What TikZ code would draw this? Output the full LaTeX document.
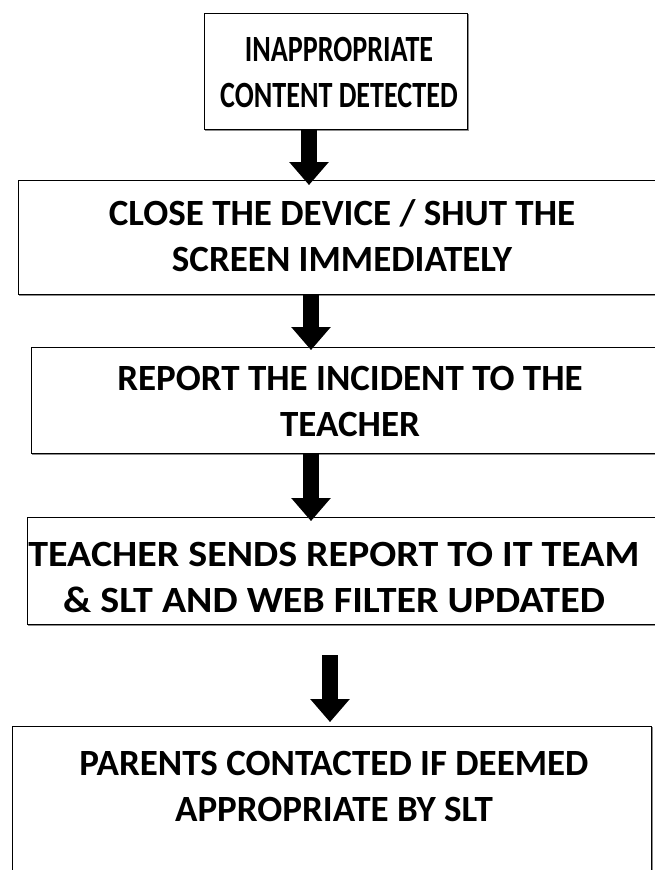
\documentclass[tikz,border=0pt]{standalone}
\usepackage{fontspec}
\setmainfont{Carlito}
\usetikzlibrary{arrows.meta}
\begin{document}
\begin{tikzpicture}[x=1pt,y=1pt,
  stepbox/.style={draw=black, line width=1.3pt, fill=white, inner sep=0pt},
  boxshade/.style={draw=black!45, line width=1.6pt},
  steptext/.style={align=center, inner sep=0pt,
    font=\fontsize{37}{46}\selectfont\bfseries},
  flowarrow/.style={line width=16pt, -{Triangle[width=38pt,length=23pt]}},
  flowshade/.style={flowarrow, draw=black!35, fill=black!35},
]
\useasboundingbox (0,0) rectangle (654,-870);
\fill[white] (0,0) rectangle (654,-870);

% boxes (drawn as plain rectangles; the wide ones run past the right margin)
\foreach \n/\xa/\ya/\xb/\yb in {b1/204/13/467/129, b2/18/180/680/294,
    b3/31/347/680/453, b4/27/517/680/624, b5/12/726/651/900}{
  \draw[boxshade] (\xa+1.5,-\ya-1.5) rectangle (\xb+1.5,-\yb-1.5);
  \node[stepbox, anchor=north west, minimum width=\xb-\xa, minimum height=\yb-\ya]
    (\n) at (\xa,-\ya) {};
}

% step texts
\node[steptext, xscale=0.76, transform shape] (t1) at (339,-72.5)
  {INAPPROPRIATE\\CONTENT DETECTED};
\node[steptext] (t2) at (342,-236) {CLOSE THE DEVICE / SHUT THE\\SCREEN IMMEDIATELY};
\node[steptext] (t3) at (350,-401.5) {REPORT THE INCIDENT TO THE\\TEACHER};
\node[steptext, xscale=1.08, transform shape] (t4) at (334,-577)
  {TEACHER SENDS REPORT TO IT TEAM\\\& SLT AND WEB FILTER UPDATED};
\node[steptext] (t5) at (334,-786) {PARENTS CONTACTED IF DEEMED\\APPROPRIATE BY SLT};

% arrow end points
\coordinate (a1s) at (b1.south -| 309,0);
\coordinate (a1e) at (309,-185);
\coordinate (a2s) at (b2.south -| 311,0);
\coordinate (a2e) at (311,-350);
\coordinate (a3s) at (b3.south -| 311,0);
\coordinate (a3e) at (311,-521);
\coordinate (a4s) at (330,-655);
\coordinate (a4e) at (330,-722);

% block arrows with a soft grey shadow
\foreach \s/\e in {a1s/a1e, a2s/a2e, a3s/a3e, a4s/a4e}{
  \draw[flowshade, shift={(3,-3)}] (\s) -- (\e);
  \draw[flowarrow] (\s) -- (\e);
}
\end{tikzpicture}
\end{document}
